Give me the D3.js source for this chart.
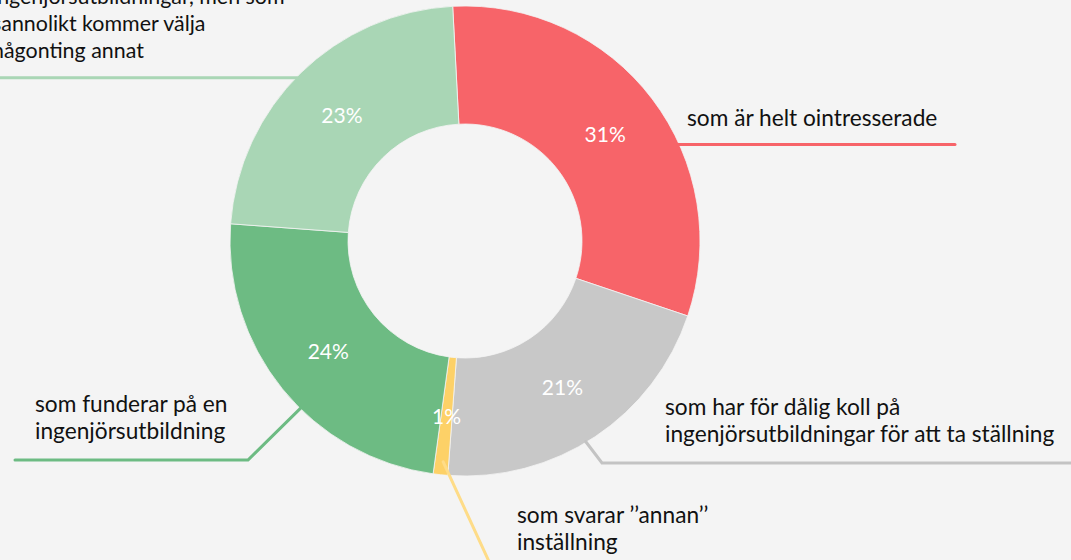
<!DOCTYPE html>
<html>
<head>
<meta charset="utf-8">
<script src="https://cdn.jsdelivr.net/npm/d3@7"></script>
<style>
  html, body { margin: 0; padding: 0; background: #f4f4f4; }
  svg { display: block; }
  text { font-family: Lato, "Open Sans", sans-serif; }
</style>
</head>
<body>
<svg id="chart" width="1071" height="560"></svg>
<script>
// ---- data ----
const categories = [
  "som är helt ointresserade",
  "som har för dålig koll på ingenjörsutbildningar för att ta ställning",
  "som svarar \u2019\u2019annan\u2019\u2019 inställning",
  "som funderar på en ingenjörsutbildning",
  "ingenjörsutbildningar, men som sannolikt kommer välja någonting annat"
];
const values = [31, 21, 1, 24, 23];
const labelLines = [
  ["som är helt ointresserade"],
  ["som har för dålig koll på", "ingenjörsutbildningar för att ta ställning"],
  ["som svarar \u2019\u2019annan\u2019\u2019", "inställning"],
  ["som funderar på en", "ingenjörsutbildning"],
  ["ingenjörsutbildningar, men som", "sannolikt kommer välja", "någonting annat"]
];
const colors = ["#f76469", "#c8c8c8", "#fdd167", "#6dbb83", "#a9d6b5"];
const lineColors = ["#f76469", "#c3c3c3", "#fedc88", "#6dbb83", "#a9d6b5"];

// ---- layout ----
const W = 1071, H = 560;
const cx = 465, cy = 241, rOuter = 235, rInner = 117;
const deg = Math.PI / 180;
const start = -3 * deg;

const svg = d3.select("#chart");
svg.append("rect").attr("width", W).attr("height", H).attr("fill", "#f4f4f4");

const pie = d3.pie().sort(null).value(d => d)
  .startAngle(start).endAngle(start + 2 * Math.PI);
const arcs = pie(values);
const arc = d3.arc().innerRadius(rInner).outerRadius(rOuter);
const labelArc = d3.arc().innerRadius((rInner + rOuter) / 2).outerRadius((rInner + rOuter) / 2);

const g = svg.append("g").attr("transform", `translate(${cx},${cy})`);

g.selectAll("path.slice").data(arcs).join("path")
  .attr("class", "slice")
  .attr("d", arc)
  .attr("fill", (d, i) => colors[i])
  .attr("stroke", "#f4f4f4")
  .attr("stroke-width", 0.8);

// percentage labels
g.selectAll("text.pct").data(arcs).join("text")
  .attr("class", "pct")
  .attr("transform", d => `translate(${labelArc.centroid(d)})`)
  .attr("text-anchor", "middle")
  .attr("dy", "0.36em")
  .attr("fill", "#ffffff")
  .attr("font-size", 21)
  .text(d => d.data + "%");

// leader line layout: anchor fraction within slice, radius, then path to label
const pt = (a, r) => [cx + r * Math.sin(a), cy - r * Math.cos(a)];
const leaders = [
  { frac: 0.615, r: rOuter - 1, path: a => [a, [955, a[1]]] },
  { frac: 0.534, r: rOuter - 1, path: a => [a, [602, 463], [1071, 463]] },
  { frac: 0.40, r: 222, path: a => [a, [a[0] + 46, a[1] + 100]] },
  { frac: 0.425, r: rOuter - 1, path: a => [a, [248, 460], [15, 460]] },
  { frac: 0.484, r: rOuter - 1, path: a => [a, [0, a[1]]] }
];
const line = d3.line();
svg.selectAll("path.leader").data(arcs).join("path")
  .attr("class", "leader")
  .attr("fill", "none")
  .attr("stroke", (d, i) => lineColors[i])
  .attr("stroke-width", 3)
  .attr("stroke-linecap", "round")
  .attr("d", (d, i) => {
    const L = leaders[i];
    const a = d.startAngle + (d.endAngle - d.startAngle) * L.frac;
    return line(L.path(pt(a, L.r)));
  });

// category labels
const labelPos = [
  { x: 687, y: 126, fs: 22.7 },
  { x: 665, y: 415, fs: 22.7 },
  { x: 517, y: 523, fs: 22.7 },
  { x: 35, y: 412, fs: 22.7 },
  { x: -8, y: 4, fs: 21.4 }
];
const lineH = 27;
svg.selectAll("text.lab").data(labelLines).join("text")
  .attr("class", "lab")
  .attr("fill", "#111111")
  .attr("font-size", (d, i) => labelPos[i].fs)
  .each(function (lines, i) {
    const t = d3.select(this);
    lines.forEach((s, k) => {
      t.append("tspan").attr("x", labelPos[i].x).attr("y", labelPos[i].y + k * lineH).text(s);
    });
  });
</script>
</body>
</html>
